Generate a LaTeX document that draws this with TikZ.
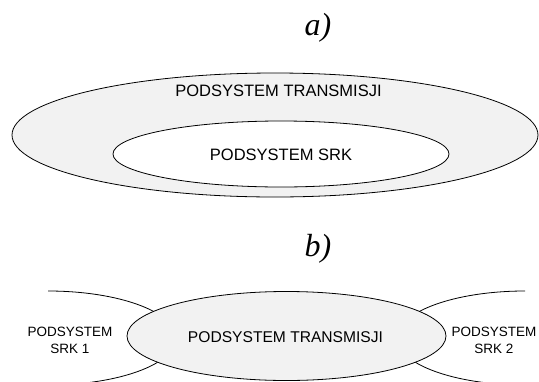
\documentclass[tikz,border=0pt]{standalone}
\usepackage{fontspec}
\setmainfont{Liberation Sans}
\newfontfamily\labelfont{Liberation Serif}
\usetikzlibrary{shapes.geometric}
\definecolor{shade}{HTML}{F2F2F2}
\tikzset{
  area/.style={ellipse, draw=black, line width=0.8pt, inner sep=0pt},
  txt/.style={font=\fontsize{16.5}{18}\selectfont, inner sep=0pt, align=center},
  small/.style={font=\fontsize{13.5}{17}\selectfont, inner sep=0pt, align=center},
  part/.style={font=\labelfont\itshape\fontsize{32}{34}\selectfont, inner sep=0pt}
}
\begin{document}
\begin{tikzpicture}[x=1pt, y=-1pt]
\useasboundingbox (0,0) rectangle (539,381);

% a) nested subsystems
\node[part] (la) at (318,28) {a)};
\node[area, fill=shade, minimum width=526pt, minimum height=124pt] (outer) at (275,135) {};
\node[area, fill=white, minimum width=336pt, minimum height=66pt] (inner) at (281,154) {};
\node[txt] (tout) at (278.5,91) {PODSYSTEM TRANSMISJI};
\node[txt] (tin) at (281,155) {PODSYSTEM SRK};

% b) transmission subsystem linking two SRK subsystems
\node[part] (lb) at (318,249) {b)};
\begin{scope}
  \clip (48,0) rectangle (525,381);
  \node[area, minimum width=256pt, minimum height=94pt] (srk1) at (48,338) {};
  \node[area, minimum width=256pt, minimum height=94pt] (srk2) at (525,338) {};
\end{scope}
\node[area, fill=shade, minimum width=319pt, minimum height=89pt] (trans) at (286.5,336) {};
\node[txt, font=\fontsize{15.6}{18}\selectfont] (ttr) at (285.5,337) {PODSYSTEM TRANSMISJI};
\node[small] (t1) at (70,340.5) {PODSYSTEM\\SRK 1};
\node[small] (t2) at (494,340.5) {PODSYSTEM\\SRK 2};
\end{tikzpicture}
\end{document}
